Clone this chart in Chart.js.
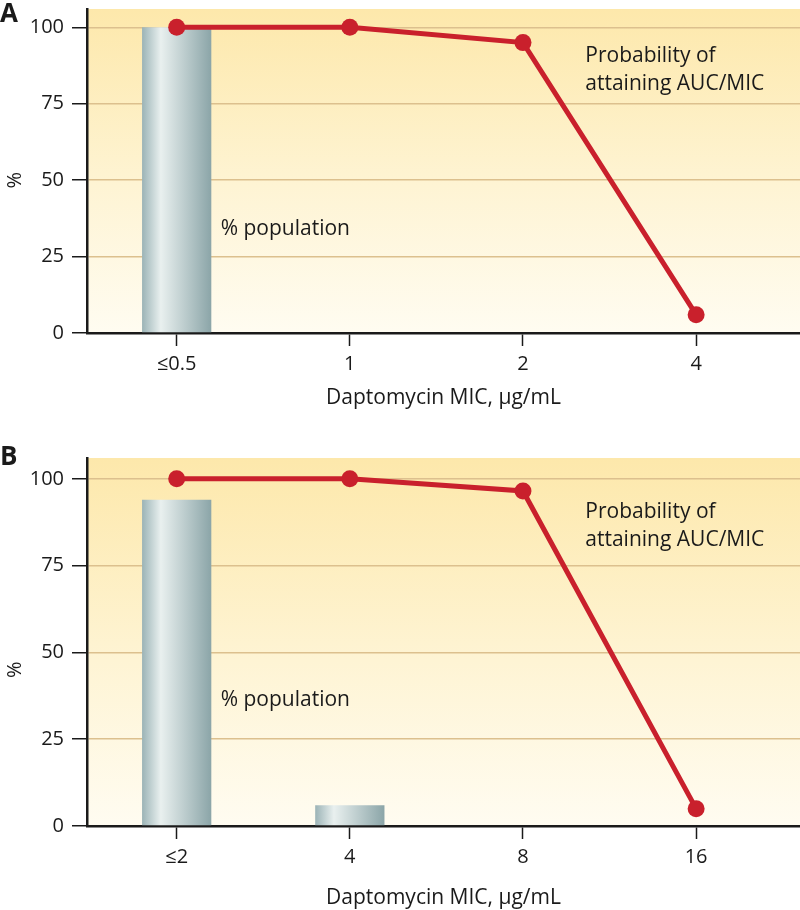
<!DOCTYPE html>
<html>
<head>
<meta charset="utf-8">
<script src="https://cdn.jsdelivr.net/npm/chart.js@4"></script>
<style>
  body { margin: 0; background: #fff; }
  .painel { position: absolute; left: 0; }
</style>
</head>
<body>
<canvas id="graficoA" class="painel" width="800" height="440" style="top:0"></canvas>
<canvas id="graficoB" class="painel" width="800" height="470" style="top:440px"></canvas>
<script>
const rotulosA = ["≤0.5", "1", "2", "4"];
const populacaoA = [100, 0, 0, 0];
const probabilidadeA = [100, 100, 95, 6];

const rotulosB = ["≤2", "4", "8", "16"];
const populacaoB = [94, 6, 0, 0];
const probabilidadeB = [100, 100, 96.5, 5];

const ticksY = [0, 25, 50, 75, 100];
const tituloX = "Daptomycin MIC, μg/mL";
const tituloY = "%";
const textoPopulacao = "% population";
const textoProbabilidade = ["Probability of", "attaining AUC/MIC"];

const FONTE = "'Open Sans', sans-serif";
const PRETO = "#1a1a1a";
const VERMELHO = "#c9202c";
const GRADE = "#dcc08e";

// gradiente horizontal das barras (efeito de cilindro)
function gradienteBarra(ctx) {
  const chart = ctx.chart;
  const x = chart.scales.x;
  if (!x || ctx.type !== "data") return "#b9cccd";
  const centro = x.getPixelForValue(ctx.dataIndex);
  const meia = Math.abs(x.getPixelForValue(1) - x.getPixelForValue(0)) * 0.2;
  if (!isFinite(centro) || !isFinite(meia) || meia === 0) return "#b9cccd";
  const g = chart.ctx.createLinearGradient(centro - meia, 0, centro + meia, 0);
  g.addColorStop(0, "#9bb3b6");
  g.addColorStop(0.27, "#e9f0ef");
  g.addColorStop(1, "#8ba5a8");
  return g;
}

const painelPlugin = {
  id: "painel",
  beforeDraw(chart) {
    const { ctx, chartArea: a } = chart;
    const g = ctx.createLinearGradient(0, a.top, 0, a.bottom);
    g.addColorStop(0, "#fde8ab");
    g.addColorStop(0.55, "#fef4d4");
    g.addColorStop(1, "#fffcf1");
    ctx.save();
    ctx.fillStyle = g;
    ctx.fillRect(a.left, a.top, a.right - a.left, a.bottom - a.top);
    ctx.restore();
  },
  afterDraw(chart, args, opts) {
    const { ctx, scales } = chart;
    ctx.save();
    ctx.fillStyle = PRETO;
    ctx.textBaseline = "alphabetic";
    ctx.font = `bold 26px ${FONTE}`;
    ctx.fillText(opts.letra, 0, opts.letraY);

    ctx.font = `21px ${FONTE}`;
    ctx.fillText(
      textoPopulacao,
      scales.x.getPixelForValue(opts.populacao[0]),
      scales.y.getPixelForValue(opts.populacao[1])
    );
    const px = scales.x.getPixelForValue(opts.probabilidade[0]);
    const py = scales.y.getPixelForValue(opts.probabilidade[1]);
    textoProbabilidade.forEach((linha, i) => ctx.fillText(linha, px, py + i * 28));

    ctx.translate(15, scales.y.getPixelForValue(opts.tituloY));
    ctx.rotate(-Math.PI / 2);
    ctx.textAlign = "center";
    ctx.textBaseline = "middle";
    ctx.font = `20px ${FONTE}`;
    ctx.fillText(tituloY, 0, 0);
    ctx.restore();
  }
};

function criarGrafico(id, rotulos, populacao, probabilidade, ajustes) {
  const canvas = document.getElementById(id);

  return new Chart(canvas, {
    type: "bar",
    data: {
      datasets: [
        {
          type: "line",
          label: "Probability of attaining AUC/MIC",
          data: probabilidade.map((v, i) => ({ x: i, y: v })),
          borderColor: VERMELHO,
          borderWidth: 5,
          pointRadius: 8.5,
          pointBackgroundColor: VERMELHO,
          pointBorderWidth: 0,
          order: 0
        },
        {
          type: "bar",
          label: "% population",
          data: populacao.map((v, i) => ({ x: i, y: v })),
          backgroundColor: gradienteBarra,
          categoryPercentage: 1,
          barPercentage: 0.4,
          order: 1
        }
      ]
    },
    options: {
      responsive: false,
      animation: false,
      devicePixelRatio: 1,
      layout: {
        autoPadding: false,
        padding: { top: ajustes.topo, left: 0, right: 0, bottom: 0 }
      },
      plugins: {
        legend: { display: false },
        tooltip: { enabled: false },
        painel: ajustes.textos
      },
      scales: {
        x: {
          type: "linear",
          offset: false,
          min: -0.518,
          max: 3.6,
          afterBuildTicks: s => {
            s.ticks = rotulos.map((_, i) => ({ value: i }));
          },
          afterFit: s => {
            s.height = ajustes.alturaX;
            s.paddingLeft = 0;
            s.paddingRight = 0;
          },
          ticks: {
            callback: v => rotulos[v],
            font: { family: FONTE, size: 20 },
            color: PRETO,
            padding: 6,
            maxRotation: 0,
            autoSkip: false
          },
          grid: {
            offset: false,
            drawOnChartArea: false,
            tickLength: 13,
            tickColor: PRETO,
            tickWidth: 1.5
          },
          border: { color: PRETO, width: 2.5 },
          title: {
            display: true,
            text: tituloX,
            font: { family: FONTE, size: 21 },
            color: PRETO,
            padding: { top: 0, bottom: ajustes.folgaTitulo }
          }
        },
        y: {
          min: 0,
          max: 106,
          afterBuildTicks: s => {
            s.ticks = ticksY.map(v => ({ value: v }));
          },
          afterFit: s => {
            s.width = 87;
            s.paddingTop = 0;
            s.paddingBottom = 0;
          },
          ticks: {
            font: { family: FONTE, size: 20 },
            color: PRETO,
            padding: 8
          },
          grid: {
            color: GRADE,
            lineWidth: 1.5,
            tickColor: PRETO,
            tickLength: 15,
            tickWidth: 1.5
          },
          border: { color: PRETO, width: 2.5 }
        }
      }
    },
    plugins: [painelPlugin]
  });
}

criarGrafico("graficoA", rotulosA, populacaoA, probabilidadeA, {
  topo: 9,
  alturaX: 107,
  folgaTitulo: 29,
  textos: { letra: "A", letraY: 22, populacao: [0.254, 32], probabilidade: [2.36, 88.7], tituloY: 50 }
});

criarGrafico("graficoB", rotulosB, populacaoB, probabilidadeB, {
  topo: 18,
  alturaX: 84,
  folgaTitulo: -1,
  textos: { letra: "B", letraY: 25, populacao: [0.254, 34.5], probabilidade: [2.36, 88.7], tituloY: 45 }
});
</script>
</body>
</html>
